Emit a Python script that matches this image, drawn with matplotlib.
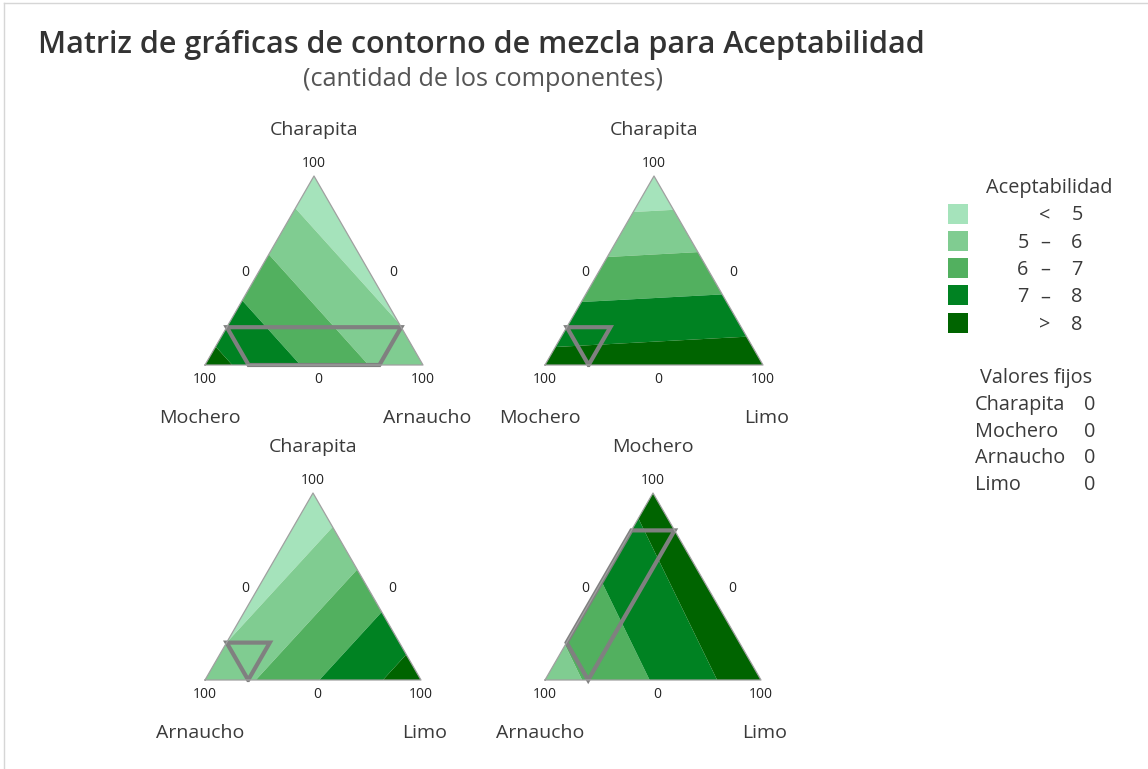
import numpy as np
import matplotlib
matplotlib.use("Agg")
import matplotlib.pyplot as plt
import matplotlib.tri as mtri
from matplotlib.patches import Polygon, Rectangle
from matplotlib.lines import Line2D
from matplotlib import transforms

# datos del gráfico
titulo = "Matriz de gráficas de contorno de mezcla para Aceptabilidad"
subtitulo = "(cantidad de los componentes)"

componentes = ["Charapita", "Mochero", "Arnaucho", "Limo"]
limite_sup = [20, 80, 80, 20]      # cantidad máxima de cada componente (total = 100)
valores_fijos = [0, 0, 0, 0]

# cada gráfica: (arriba, izquierda, derecha)
paneles = [("Charapita", "Mochero", "Arnaucho"),
           ("Charapita", "Mochero", "Limo"),
           ("Charapita", "Arnaucho", "Limo"),
           ("Mochero", "Arnaucho", "Limo")]

# Aceptabilidad estimada en los vértices (arriba, izquierda, derecha)
vert_p1 = [4.3, 8.4, 5.2]
vert_p2 = [4.2, 8.4, 8.67]
vert_p3 = [4.2, 5.2, 8.6]
vert_p4 = [8.4, 5.45, 8.65]
vertices = [vert_p1, vert_p2, vert_p3, vert_p4]

niveles = [0, 5, 6, 7, 8, 20]
ley_bajo = ["", "5", "6", "7", ""]
ley_sep = ["<", "–", "–", "–", ">"]
ley_alto = ["5", "6", "7", "8", "8"]
colores = ["#a5e3bb", "#80cc91", "#52b05f", "#008222", "#006400"]

W, H = 1148, 769
S = np.sqrt(3) / 2
GRIS_TXT = "#3a3a3a"
FS = 14      # nombres de componentes
FSL = 14.3   # leyenda

plt.rcParams['font.family'] = ['Open Sans', 'DejaVu Sans']

fig = plt.figure(figsize=(W / 100, H / 100), dpi=100)
fig.patch.set_facecolor("white")


def ax_px(x0, y0, w, h):
    return fig.add_axes([x0 / W, 1 - (y0 + h) / H, w / W, h / H])


def recortar(poly, k, b):
    out = []
    for i in range(len(poly)):
        p, q = poly[i], poly[(i + 1) % len(poly)]
        pin, qin = p[k] <= b + 1e-9, q[k] <= b + 1e-9
        if pin:
            out.append(p)
        if pin != qin:
            t = (b - p[k]) / (q[k] - p[k])
            out.append(p + t * (q - p))
    return out


def a_xy(p):
    # p = (arriba, izquierda, derecha)
    return p[2] + p[0] / 2, p[0] * S


cajas = [(205, 176, 218, 189), (545, 176, 218, 189),
         (205, 493, 216, 187), (545, 493, 216, 187)]

n = 120
ii, jj = np.meshgrid(np.arange(n + 1), np.arange(n + 1))
m = ii + jj <= n
fa = ii[m] / n
fc = jj[m] / n
fb = 1 - fa - fc
tri = mtri.Triangulation(fc + fa / 2, fa * S)

for caja, comps, vv in zip(cajas, paneles, vertices):
    ax = ax_px(*caja)
    ax.set_xlim(0, 1)
    ax.set_ylim(0, S)
    ax.axis("off")

    z = vv[0] * fa + vv[1] * fb + vv[2] * fc
    ax.tricontourf(tri, z, levels=niveles, colors=colores, antialiased=True)
    ax.plot([0, 1, 0.5, 0], [0, 0, S, 0], color="#a0a0a0", lw=0.9, clip_on=False)

    # región factible
    poly = [np.array([1.0, 0, 0]), np.array([0, 1.0, 0]), np.array([0, 0, 1.0])]
    for k, nombre in enumerate(comps):
        poly = recortar(poly, k, limite_sup[componentes.index(nombre)] / 100)
    xy = [a_xy(p) for p in poly]
    ax.add_patch(Polygon(xy, closed=True, fill=False, ec="#808080", lw=3,
                         joinstyle="miter", clip_on=False))

    def txt(x, y, s, dx, dy, size=10):
        tr = transforms.offset_copy(ax.transData, fig, x=dx, y=dy, units="dots")
        ax.text(x, y, s, transform=tr, ha="center", va="center", fontsize=size,
                color="#222222" if size < 11 else GRIS_TXT)

    txt(0.5, S, comps[0], 0, 46, FS)
    txt(0.5, S, "100", 0, 13)
    txt(0.25, S / 2, "0", -14, -2)
    txt(0.75, S / 2, "0", 25, -2)
    txt(0, 0, "100", 0, -14)
    txt(0.5, 0, "0", 4, -14)
    txt(1, 0, "100", 0, -14)
    txt(0, 0, comps[1], -5, -53, FS)
    txt(1, 0, comps[2], 4, -53, FS)

# títulos
fig.text(481 / W, 1 - 45 / H, titulo, ha="center", va="center", fontsize=22,
         fontweight="semibold", color="#333333")
fig.text(483 / W, 1 - 79 / H, subtitulo, ha="center", va="center", fontsize=18.2, color="#555555")

# marco
fig.add_artist(Line2D([4 / W, 1], [1 - 3 / H, 1 - 3 / H], color="#d6d6d6", lw=1))
fig.add_artist(Line2D([4 / W, 4 / W], [0, 1 - 3 / H], color="#d6d6d6", lw=1))

# leyenda
axl = ax_px(930, 170, 210, 340)
axl.set_xlim(930, 1140)
axl.set_ylim(510, 170)
axl.axis("off")
axl.text(1049, 188, "Aceptabilidad", ha="center", va="center", fontsize=FSL, color=GRIS_TXT)
for i in range(len(colores)):
    yc = 213.5 + i * 27.3
    axl.add_patch(Rectangle((948, yc - 10), 20, 20, color=colores[i], lw=0))
    axl.text(1023, yc + 2, ley_bajo[i], ha="center", va="center", fontsize=FSL, color=GRIS_TXT)
    axl.text(1045, yc + 2, ley_sep[i], ha="center", va="center", fontsize=FSL, color=GRIS_TXT)
    axl.text(1077, yc + 2, ley_alto[i], ha="center", va="center", fontsize=FSL, color=GRIS_TXT)

axl.text(1036, 378, "Valores fijos", ha="center", va="center", fontsize=FSL, color=GRIS_TXT)
for i, (c, v) in enumerate(zip(componentes, valores_fijos)):
    yr = 405 + i * 26.7
    axl.text(975, yr, c, ha="left", va="center", fontsize=FSL, color=GRIS_TXT)
    axl.text(1090, yr, str(v), ha="center", va="center", fontsize=FSL, color=GRIS_TXT)

fig.savefig("out.png", dpi=100)
